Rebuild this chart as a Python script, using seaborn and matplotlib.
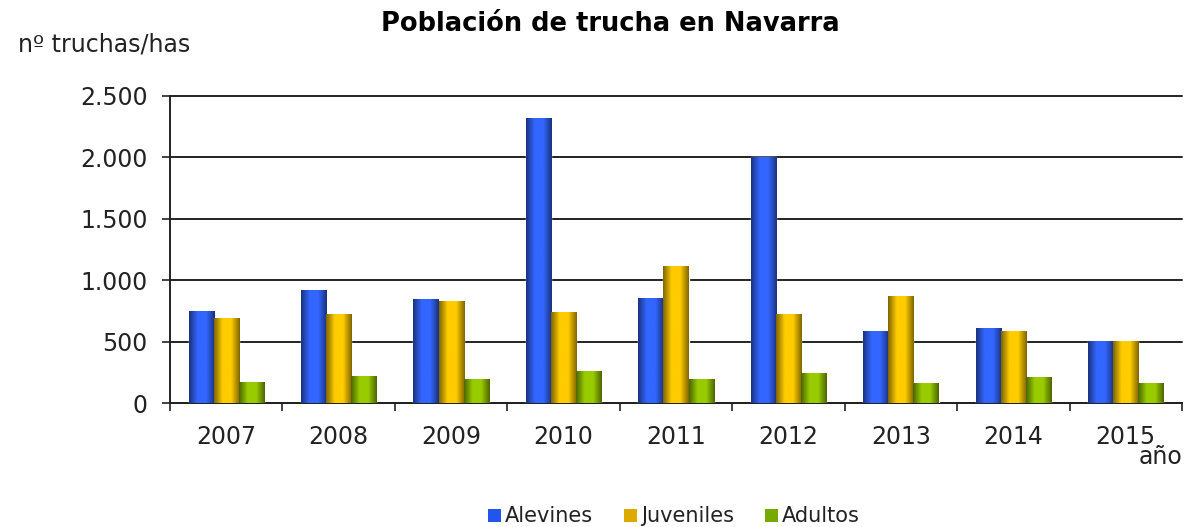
import numpy as np
import pandas as pd
import seaborn as sns
import matplotlib.pyplot as plt
from matplotlib.colors import LinearSegmentedColormap
from matplotlib.patches import Patch
from matplotlib.ticker import FuncFormatter, FixedLocator

# Datos
anios = ['2007', '2008', '2009', '2010', '2011', '2012', '2013', '2014', '2015']
alevines = [750, 920, 845, 2320, 855, 2000, 590, 610, 505]
juveniles = [690, 725, 830, 740, 1115, 725, 875, 590, 505]
adultos = [175, 220, 200, 265, 200, 245, 165, 210, 165]
series = ['Alevines', 'Juveniles', 'Adultos']

df = pd.DataFrame({
    'año': anios * 3,
    'valor': alevines + juveniles + adultos,
    'serie': np.repeat(series, len(anios)),
})

colores = {'Alevines': '#3366FF', 'Juveniles': '#FFCC00', 'Adultos': '#99CC00'}
oscuros = {'Alevines': '#1A3380', 'Juveniles': '#806600', 'Adultos': '#4D6600'}
texto = '#222222'

sns.set_style('white')
plt.rcParams['font.family'] = ['DejaVu Sans']

fig = plt.figure(figsize=(11.97, 5.27), dpi=100)
ax = fig.add_axes([0.142, 0.235, 0.8455, 0.583])

sns.barplot(data=df, x='año', y='valor', hue='serie', palette=colores,
            width=0.67, ax=ax, legend=False, saturation=1)

# degradado horizontal en cada barra (estilo Excel)
for cont, s in zip(ax.containers, series):
    cmap = LinearSegmentedColormap.from_list(
        s, [oscuros[s], colores[s], colores[s], oscuros[s]])
    grad = np.linspace(0, 1, 64).reshape(1, -1)
    for p in cont.patches:
        x0, y0 = p.get_x(), p.get_y()
        w, h = p.get_width(), p.get_height()
        im = ax.imshow(grad, cmap=cmap, aspect='auto',
                       extent=[x0, x0 + w, y0, y0 + h], zorder=3)
        im.set_clip_path(p)
        p.set_zorder(3)
ax.set_xlim(-0.5, 8.5)
ax.set_ylim(0, 2500)

# ejes
ax.yaxis.set_major_locator(FixedLocator([0, 500, 1000, 1500, 2000, 2500]))
ax.yaxis.set_major_formatter(FuncFormatter(lambda v, _: f"{int(v):,}".replace(',', '.')))
ax.grid(axis='y', color='#222222', lw=1.4, zorder=1)
for gl in ax.get_ygridlines():
    gl.set_clip_on(False)
ax.set_axisbelow(True)

ax.xaxis.set_minor_locator(FixedLocator(np.arange(-0.5, 9, 1)))
ax.tick_params(axis='x', which='major', length=0, pad=16, labelsize=17, labelcolor=texto)
ax.tick_params(axis='x', which='minor', length=6, width=1.2, color='#222222', direction='out')
ax.tick_params(axis='y', length=6, width=1.2, color='#222222', direction='out',
               labelsize=17, pad=10, labelcolor=texto)
ax.tick_params(bottom=True, left=True)
ax.xaxis.set_tick_params(which='minor', bottom=True)

for side in ['top', 'right']:
    ax.spines[side].set_visible(False)
for side in ['left', 'bottom']:
    ax.spines[side].set_color('#222222')
    ax.spines[side].set_linewidth(1.4)

ax.set_xlabel('')
ax.set_ylabel('')

fig.text(0.51, 0.955, 'Población de trucha en Navarra', ha='center', va='center',
         fontsize=18.5, fontweight='bold', color='black')
fig.text(0.015, 0.915, 'nº truchas/has', ha='left', va='center', fontsize=17, color=texto)
fig.text(0.951, 0.132, 'año', ha='left', va='center', fontsize=17, color=texto)

handles = [Patch(facecolor=c, edgecolor='none') for c in ['#2255EE', '#DDAA00', '#77AA00']]
fig.legend(handles, series, loc='center', bbox_to_anchor=(0.563, 0.02), ncol=3,
           frameon=False, fontsize=15, handlelength=0.6, handleheight=0.6,
           handletextpad=0.2, columnspacing=1.5, labelcolor=texto)

fig.savefig('out.png', dpi=100)
